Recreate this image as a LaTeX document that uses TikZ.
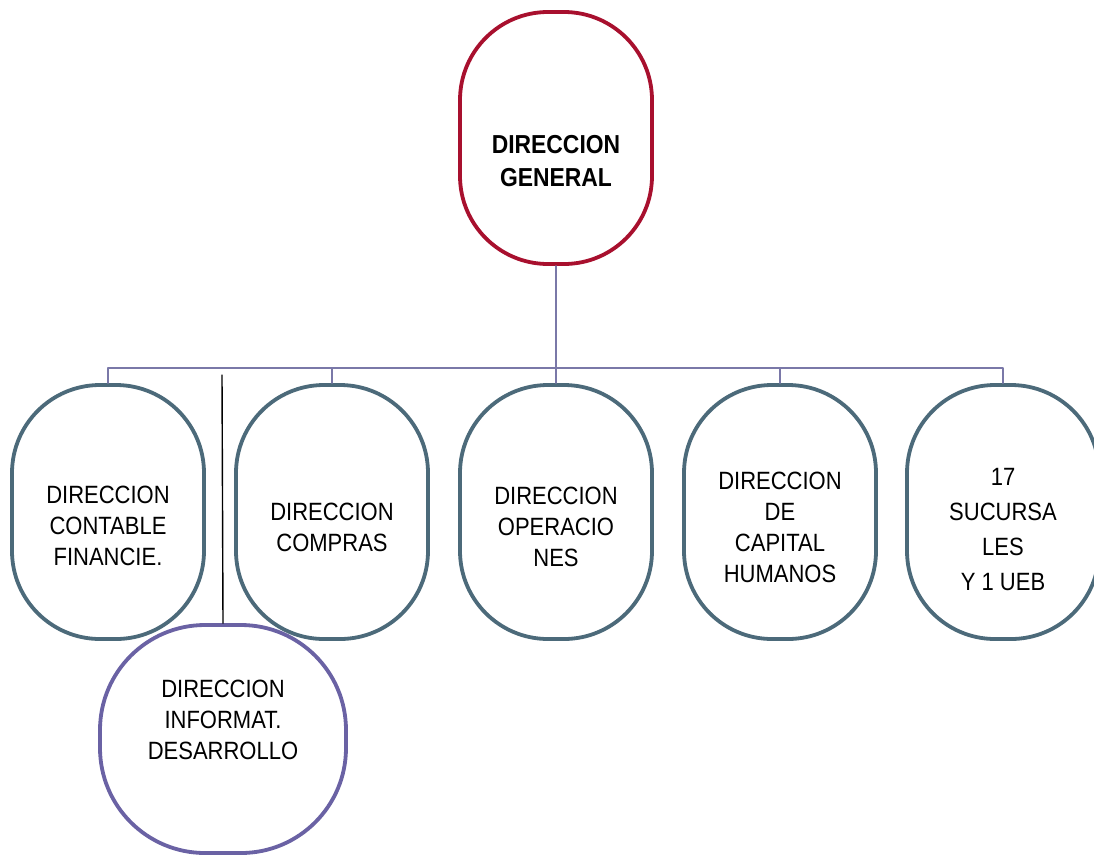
\documentclass[tikz,border=0pt]{standalone}
\usepackage{fontspec}
\setmainfont{Liberation Sans}
\newfontfamily\orgfont[FakeStretch=0.88]{Liberation Sans}
\definecolor{genred}{HTML}{A8102E}
\definecolor{unitslate}{HTML}{4C6A7A}
\definecolor{infpurple}{HTML}{6A62A4}
\definecolor{linkgray}{HTML}{7A78A8}
\begin{document}
\begin{tikzpicture}[x=1pt,y=-1pt,line cap=round,line join=round,
	unit/.style={draw=unitslate,line width=3.8pt,fill=white,rounded corners=88pt,minimum width=192pt,minimum height=254pt,inner sep=0pt},
	unittext/.style={align=center,inner sep=0pt,font=\orgfont\fontsize{25}{31}\selectfont},
	link/.style={draw=linkgray,line width=1.3pt}]
	\useasboundingbox (0,0) rectangle (1094,855);
	% direccion general
	\node[unit,draw=genred,minimum height=252pt] (gen) at (556,138) {};
	\node[unittext,font=\orgfont\bfseries\fontsize{26}{33}\selectfont] (gen-t) at ([yshift=-23pt]gen.center) {DIRECCION\\GENERAL};
	% direcciones
	\node[unit] (cf) at (108,512) {};
	\node[unit] (co) at (332,512) {};
	\node[unit] (op) at (556,512) {};
	\node[unit] (ch) at (780,512) {};
	\node[unit] (su) at (1003,512) {};
	\node[unittext] (cf-t) at ([yshift=-14pt]cf.center) {DIRECCION\\CONTABLE\\FINANCIE.};
	\node[unittext] (co-t) at ([yshift=-15pt]co.center) {DIRECCION\\COMPRAS};
	\node[unittext] (op-t) at ([yshift=-15pt]op.center) {DIRECCION\\OPERACIO\\NES};
	\node[unittext] (ch-t) at ([yshift=-15pt]ch.center) {DIRECCION\\DE\\CAPITAL\\HUMANOS};
	\node[unittext,font=\orgfont\fontsize{25}{35}\selectfont] (su-t) at ([yshift=-18pt]su.center) {17\\SUCURSA\\LES\\Y 1 UEB};
	% informatica
	\node[unit,draw=infpurple,minimum width=246pt,minimum height=228pt,rounded corners=105pt] (inf) at (223,739) {};
	\node[unittext] (inf-t) at ([yshift=19pt]inf.center) {DIRECCION\\INFORMAT.\\DESARROLLO};
	% conectores
	\coordinate (bar) at (556,368);
	\coordinate (tick) at (222,375);
	\draw[link] (gen.south) -- (bar);
	\foreach \n in {cf,co,op,ch,su}
		\draw[link] (\n.north) |- (bar);
	\draw[line width=1.4pt] (tick) -- (inf.north);
\end{tikzpicture}
\end{document}
